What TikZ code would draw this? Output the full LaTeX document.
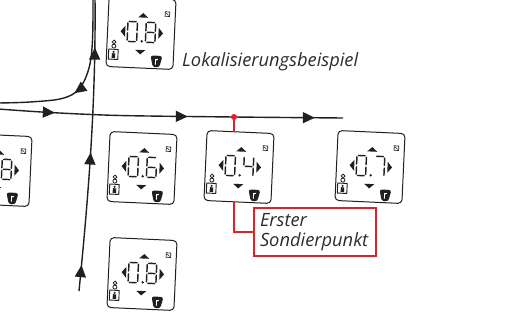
\documentclass[tikz,border=0pt]{standalone}
\usepackage{fontspec}
\setmainfont{Open Sans}
\usetikzlibrary{arrows.meta,decorations.markings}

\definecolor{inkgray}{RGB}{35,31,32}
\definecolor{labelgray}{RGB}{45,45,45}
\definecolor{markred}{RGB}{230,30,40}

\tikzset{
  lcdframe/.style={draw=inkgray, line width=1pt, rounded corners=4pt, fill=white,
    minimum width=67pt, minimum height=70pt, inner sep=0pt, transform shape},
  segline/.style={draw=inkgray, line width=1.45pt, line cap=round},
  lcdglyph/.style={fill=inkgray},
  track/.style={draw=inkgray, line width=1.4pt},
  arrowsat/.style={postaction={decorate, decoration={markings,
    mark=at position #1 with {\arrow{Triangle[length=12pt,width=11pt]}}}}},
  probeline/.style={draw=markred, line width=2pt},
  labeltext/.style={font=\fontsize{18.3}{19.5}\selectfont\itshape, text=labelgray},
}

% seven-segment pieces, digit cell 9.5 x 20
\newcommand\lcdsega{\draw[segline] (1.4,10) -- (8.1,10);}
\newcommand\lcdsegb{\draw[segline] (9.5,8.6) -- (9.5,1.4);}
\newcommand\lcdsegc{\draw[segline] (9.5,-1.4) -- (9.5,-8.6);}
\newcommand\lcdsegd{\draw[segline] (1.4,-10) -- (8.1,-10);}
\newcommand\lcdsege{\draw[segline] (0,-1.4) -- (0,-8.6);}
\newcommand\lcdsegf{\draw[segline] (0,8.6) -- (0,1.4);}
\newcommand\lcdsegg{\draw[segline] (1.4,0) -- (8.1,0);}
\newcommand\sevenseg[2]{%
  \begin{scope}[shift={(#1,1)}]
    \foreach \s in {#2}{\csname lcdseg\s\endcsname}
  \end{scope}}

% one hand-held display: name, x, y, segments of the second digit
\newcommand\lcdunit[4]{%
  \begin{scope}[shift={(#2,#3)}, rotate=-2.6]
    \node[lcdframe] (#1) at (0,0) {};
    \sevenseg{-13.5}{a,b,c,d,e,f}
    \fill[inkgray] (1,-8.3) circle (1.3pt);
    \sevenseg{4.8}{#4}
    % cursor triangles
    \fill[lcdglyph] (-20.5,1) -- (-15.8,6.5) -- (-15.8,-4.5) -- cycle;
    \fill[lcdglyph] (22,0.5) -- (17.5,6) -- (17.5,-5) -- cycle;
    \fill[lcdglyph] (1.5,20) -- (-3.5,15.5) -- (6.5,15.5) -- cycle;
    \fill[lcdglyph] (0,-21.5) -- (-5,-17) -- (5,-17) -- cycle;
    % status square
    \draw[inkgray, line width=0.7pt] (23.3,17.8) rectangle (27.8,22.3);
    \draw[inkgray, line width=0.6pt] (24.3,21.2) -- (26.8,18.9);
    % operator symbol
    \draw[inkgray, line width=0.9pt] (-31.5,-27.5) rectangle (-22,-17.5);
    \fill[inkgray] (-28.2,-26.3) rectangle (-24.8,-21.5);
    \fill[inkgray] (-26.5,-20.1) circle (1.2pt);
    \draw[inkgray, line width=0.8pt] (-26.5,-10.2) circle (1.9pt);
    \draw[inkgray, line width=0.8pt] (-26.5,-14.3) circle (2pt);
    % key
    \fill[inkgray, rounded corners=2.5pt] (10.5,-22) -- (22.5,-22) -- (19.8,-33.5) -- (13.2,-33.5) -- cycle;
    \draw[white, line width=0.9pt] (15.8,-31) -- (15.8,-25.5) (15.8,-26.3) -- (18,-25.5);
  \end{scope}}

\begin{document}
\begin{tikzpicture}[x=1pt, y=1pt]
  \clip (0,0) rectangle (520,-324);
  \fill[white] (0,0) rectangle (520,-324);

  % search tracks
  \coordinate (vbot) at (79,-291);
  \coordinate (vtop) at (95,3);
  \draw[track, arrowsat=26pt, arrowsat=139pt, arrowsat=244pt]
    (vbot) .. controls (89,-190) and (96,-100) .. (vtop);

  \coordinate (ctop) at (93,3);
  \coordinate (cleft) at (-2,-103);
  \draw[track, arrowsat=101pt]
    plot[smooth, tension=0.6] coordinates {(ctop) (92.5,-40) (89,-68) (79,-89) (62,-98.5) (30,-102) (cleft)};

  \coordinate (hleft) at (-2,-109);
  \coordinate (hright) at (343,-118);
  \draw[track, arrowsat=57pt, arrowsat=190pt, arrowsat=317pt]
    plot[smooth, tension=0.5] coordinates {(hleft) (50,-112.5) (120,-115.5) (234,-117) (hright)};

  % displays
  \lcdunit{unitTop}{141}{-33}{a,b,c,d,e,f,g}
  \lcdunit{unitLeft}{-3}{-170}{a,b,c,d,e,f,g}
  \lcdunit{unitA}{142}{-168}{a,c,d,e,f,g}
  \lcdunit{unitB}{239}{-167}{b,c,f,g}
  \lcdunit{unitC}{370}{-167}{a,b,c}
  \lcdunit{unitBot}{142}{-274}{a,b,c,d,e,f,g}

  % first probing point
  \coordinate (probe) at (234,-117);
  \draw[probeline] (probe) -- (probe |- unitB.north);
  \fill[markred] (probe) circle (3pt);

  \node[draw=markred, line width=2pt, minimum width=122pt, minimum height=48pt,
        text width=110pt, align=left, inner sep=4pt, labeltext, anchor=west]
        (firstprobe) at (253,-232) {Erster\\Sondierpunkt};
  \draw[probeline] (probe |- unitB.south) -- (probe |- firstprobe.west) -- (firstprobe.west);

  \node[labeltext, anchor=west, inner sep=0pt] (title) at (182,-62) {Lokalisierungsbeispiel};
\end{tikzpicture}
\end{document}
